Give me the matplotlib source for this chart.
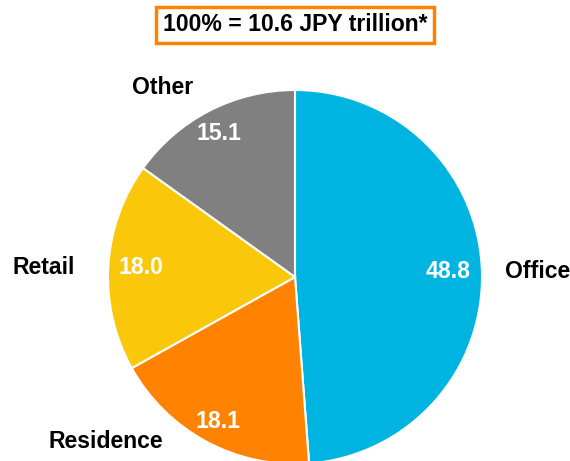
import matplotlib

matplotlib.use("Agg")
import matplotlib.pyplot as plt

# Share of total, clockwise from 12 o'clock
segments = ["Office", "Residence", "Retail", "Other"]
shares = [48.8, 18.1, 18.0, 15.1]
colors = ["#00B4E1", "#FF8300", "#FBC70A", "#808080"]
total_label = "100% = 10.6 JPY trillion*"

plt.rcParams["font.family"] = ["Liberation Sans", "DejaVu Sans"]

W, H = 570, 461
fig = plt.figure(figsize=(W / 100, H / 100), dpi=100)
ax = fig.add_axes([0, 0, 1, 1])

cx, cy, r = 295, 277, 187
ax.pie(
    shares,
    colors=colors,
    startangle=90,
    counterclock=False,
    center=(cx, H - cy),
    radius=r,
    frame=True,
    wedgeprops=dict(edgecolor="white", linewidth=1.5),
)
ax.set_xlim(0, W)
ax.set_ylim(0, H)
ax.set_aspect("equal")
ax.axis("off")


def px(x, y):
    return x, H - y


FS = 16.6

# value labels inside the slices
value_pos = [(448, 271), (218, 422), (141, 268), (219, 133)]
for v, (x, y) in zip(shares, value_pos):
    ax.text(*px(x, y), f"{v:.1f}", color="white", fontsize=FS,
            fontweight="bold", ha="center", va="center")

# segment names outside the pie
name_pos = [(538, 271), (106, 441), (44, 268), (163, 88)]
for name, (x, y) in zip(segments, name_pos):
    ax.text(*px(x, y), name, color="black", fontsize=FS,
            fontweight="bold", ha="center", va="center")

ax.text(*px(295, 25), total_label, fontsize=FS, fontweight="bold",
        ha="center", va="center",
        bbox=dict(boxstyle="square,pad=0.3", facecolor="white",
                  edgecolor="#FF8300", linewidth=2.5))

fig.savefig("out.png", dpi=100)
